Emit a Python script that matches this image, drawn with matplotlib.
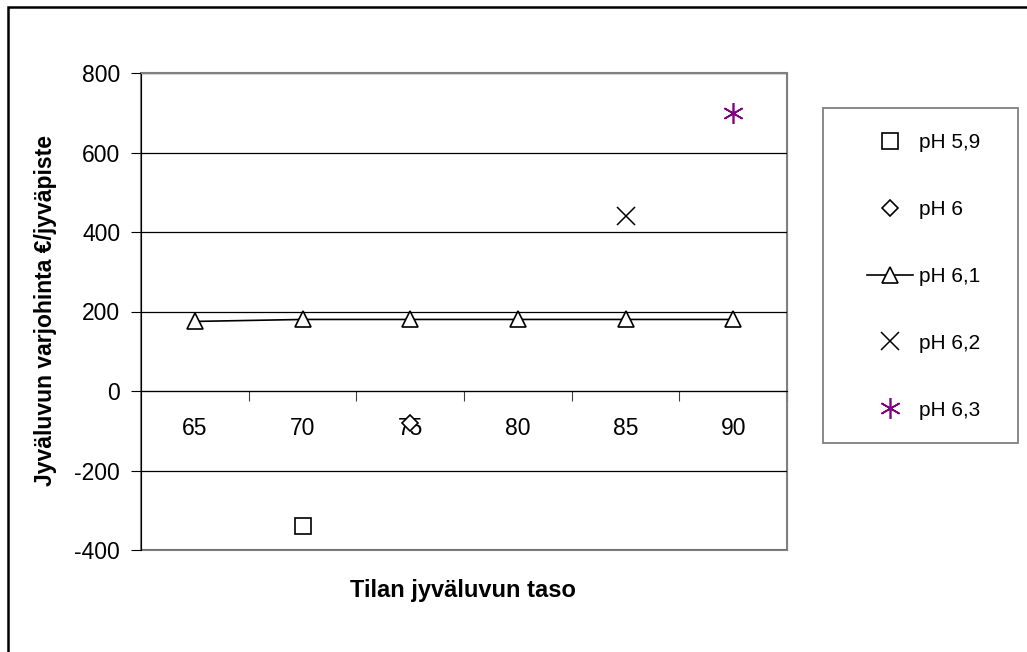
import numpy as np
import matplotlib.pyplot as plt
from matplotlib.patches import Rectangle

plt.rcParams['font.family'] = ['Liberation Sans', 'DejaVu Sans']
plt.rcParams['axes.unicode_minus'] = False

# tilan jyväluvun taso (luokat)
tasot = ['65', '70', '75', '80', '85', '90']
nan = np.nan
ph_59 = [nan, -340, nan, nan, nan, nan]
ph_60 = [nan, nan, -80, nan, nan, nan]
ph_61 = [175, 180, 180, 180, 180, 180]
ph_62 = [nan, nan, nan, nan, 440, nan]
ph_63 = [nan, nan, nan, nan, nan, 700]

W, H = 1027, 652
fig = plt.figure(figsize=(W / 100, H / 100), dpi=100)
ax = fig.add_axes([141 / W, 1 - 550 / H, (787 - 141) / W, (550 - 73) / H])

x = np.arange(len(tasot))
ms = 11
ax.plot(x, ph_59, ls='none', marker='s', ms=ms, mfc='white', mec='black', mew=1.2, label='pH 5,9')
ax.plot(x, ph_60, ls='none', marker='D', ms=ms * 0.75, mfc='white', mec='black', mew=1.2, label='pH 6')
ax.plot(x, ph_61, color='black', lw=1.2, marker='^', ms=ms + 1, mfc='white', mec='black', mew=1.2, label='pH 6,1')
ax.plot(x, ph_62, ls='none', marker='x', ms=ms + 2, mec='black', mew=1.1, label='pH 6,2')
ax.plot(x, ph_63, ls='none', marker=(6, 2, 0), ms=ms + 4, mec='#800080', mew=1.2, label='pH 6,3')

ax.set_xlim(-0.5, len(tasot) - 0.5)
ax.set_ylim(-400, 800)
ax.set_yticks(np.arange(-400, 801, 200))
ax.yaxis.grid(True, color='black', lw=0.9)
ax.set_axisbelow(True)

# luokkaakseli nollatasolla, jakoviivat luokkien välissä
ax.spines['bottom'].set_position(('data', 0))
ax.spines['bottom'].set_color('black')
ax.spines['left'].set_color('black')
ax.spines['top'].set_color('#808080')
ax.spines['right'].set_color('#808080')
ax.add_patch(Rectangle((0, 0), 1, 1, transform=ax.transAxes, fill=False,
                       ec='#808080', lw=1.5, clip_on=False, zorder=0.5))

ax.set_xticks(x + 0.5, minor=False)
ax.set_xticklabels([])
ax.set_xticks(x, minor=True)
ax.set_xticklabels(tasot, minor=True)
ax.tick_params(axis='x', which='major', direction='out', length=7, color='#404040')
ax.tick_params(axis='x', which='minor', length=0, pad=19, labelsize=16.5)
ax.tick_params(axis='y', direction='out', length=7, pad=8, labelsize=16.5)

ax.set_ylabel('Jyväluvun varjohinta €/jyväpiste', fontsize=16.5, fontweight='bold')
ax.yaxis.set_label_coords((57 - 141) / 646, 0.503)
fig.text(463 / W, 1 - 590 / H, 'Tilan jyväluvun taso', fontsize=17, fontweight='bold',
         ha='center', va='center')

# selite: reunus erikseen, merkit sisällä
fig.patches.append(Rectangle((823 / W, 1 - 443 / H), (1018 - 823) / W, (443 - 108) / H,
                             transform=fig.transFigure, fill=False, ec='#808080', lw=1.3))
fig.legend(loc='upper left', bbox_to_anchor=(867 / W, 1 - 133 / H),
           bbox_transform=fig.transFigure, fontsize=15, frameon=False,
           labelspacing=2.3, handlelength=2.2, handletextpad=0.3,
           borderpad=0, borderaxespad=0)

# kehys koko kuvan ympärillä
fig.patches.append(Rectangle((8 / W, -0.1), 1.2, 1 - 7 / H + 0.1, transform=fig.transFigure,
                             fill=False, ec='black', lw=1.8))

fig.savefig('out.png', dpi=100)
